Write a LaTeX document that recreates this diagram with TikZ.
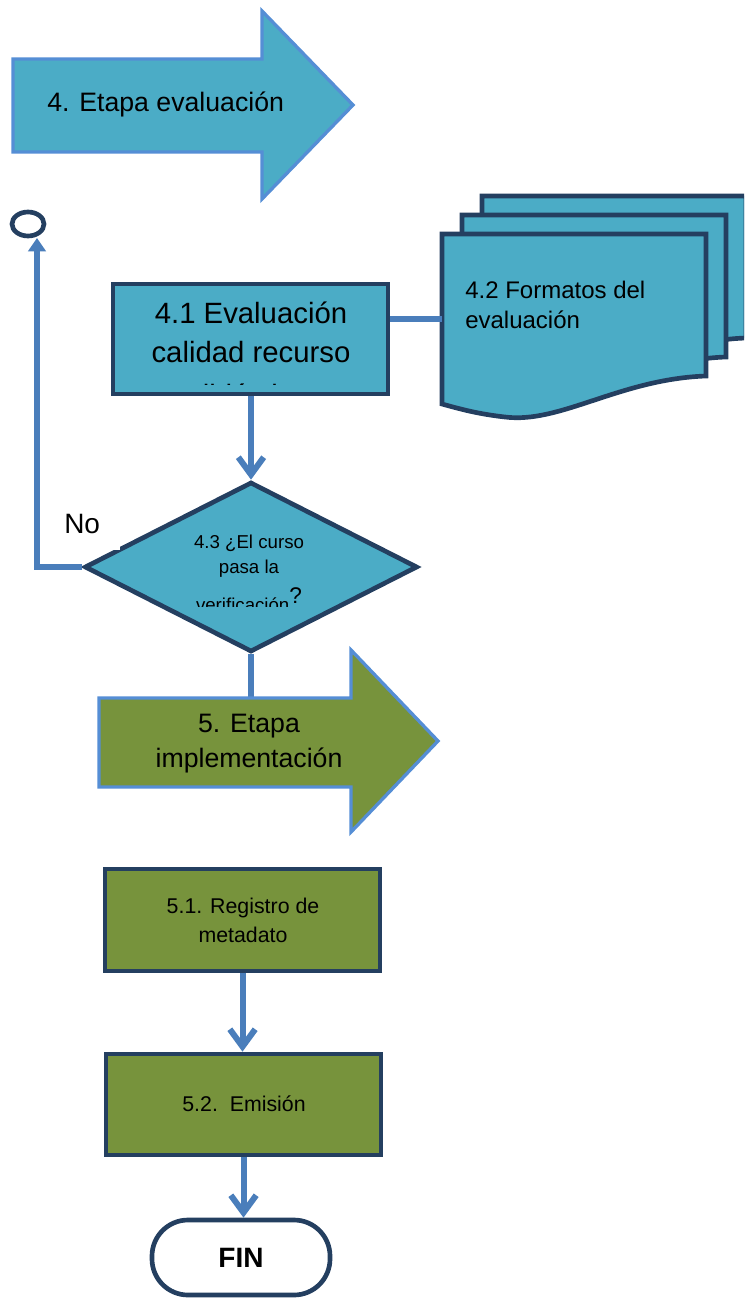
\documentclass[tikz,border=0pt]{standalone}
\usepackage{fontspec}
\setmainfont{Liberation Sans}
\usetikzlibrary{arrows.meta,shapes.geometric}
\definecolor{cAqua}{HTML}{4BACC6}
\definecolor{cGreen}{HTML}{77933C}
\definecolor{cNavy}{HTML}{243F60}
\definecolor{cEdge}{HTML}{558ED5}
\definecolor{cConn}{HTML}{4A7EBB}
\tikzset{
  stagearrow/.style={draw=cEdge, line width=2.5pt, line join=miter},
  navybox/.style={draw=cNavy, line width=3.5pt, inner sep=0pt, line join=miter},
  docsheet/.style={draw=cNavy, line width=3.5pt, fill=cAqua, line join=miter},
  conn/.style={draw=cConn, line width=4.5pt},
  vtip/.style={-{Straight Barb[length=13pt,width=19pt]}},
  ttip/.style={-{Triangle[length=10pt,width=13pt]}},
  lbl/.style={inner sep=0pt, anchor=base},
  f14/.style={font=\fontsize{14}{17}\selectfont},
  f16/.style={font=\fontsize{16}{19}\selectfont},
  f18/.style={font=\fontsize{18}{21}\selectfont},
  f20/.style={font=\fontsize{20}{24}\selectfont},
  f21/.style={font=\fontsize{21}{25}\selectfont},
  f22/.style={font=\fontsize{22}{26}\selectfont},
}
\begin{document}
\begin{tikzpicture}[x=0.75pt, y=-0.75pt]
\useasboundingbox (0,0) rectangle (744,1298);
\clip (0,0) rectangle (744,1298);

% 4. stage arrow
\draw[stagearrow, fill=cAqua] (13,59) -- (262,59) -- (262,11) -- (353,105) -- (262,199) -- (262,152) -- (13,152) -- cycle;
\node[lbl, f20, anchor=base west] (t4) at (47,112) {4. Etapa evaluación};

% 4.2 document stack
\foreach \dx/\dy in {40/-38, 20/-19, 0/0} {
  \draw[docsheet, shift={(\dx,\dy)}] (442,234) -- (706,234) -- (706,376)
    .. controls (620,379) and (560,424) .. (505,417)
    .. controls (478,414) and (460,409) .. (442,404) -- cycle;
}
\coordinate (docL) at (442,319);
\node[lbl, f18, anchor=base west] (t42a) at (465,298) {4.2 Formatos del};
\node[lbl, f18, anchor=base west] (t42b) at (465,328) {evaluación};

% 4.1 box
\node[navybox, fill=cAqua, minimum width=275*0.75pt, minimum height=110*0.75pt] (b41) at (250.5,339) {};
\draw[conn] (b41.east |- docL) -- (docL);
\begin{scope}
  \clip (113,285) rectangle (388,384);
  \node[lbl, f22] (t41a) at (251,323) {4.1 Evaluación};
  \node[lbl, f22] (t41b) at (251,362) {calidad recurso};
  \node[lbl, f22] (t41c) at (251,405) {didáctico};
\end{scope}

% diamond 4.3
\node[navybox, diamond, fill=cAqua, minimum width=333*0.75pt, minimum height=170*0.75pt] (dia) at (251,567) {};
\draw[conn, vtip] (b41.south -| dia.north) -- (dia.north);
\begin{scope}
  \clip (80,480) rectangle (420,606.5);
  \node[lbl, f14] (t43a) at (249,548) {4.3 ¿El curso};
  \node[lbl, f14] (t43b) at (249,573) {pasa la};
  \node[lbl, f14] (t43c) at (249,611) {verificación\raisebox{6pt}{\fontsize{17}{17}\selectfont ?}};
\end{scope}

% No loop
\node[ellipse, draw=cNavy, line width=3.5pt, minimum width=32*0.75pt, minimum height=24*0.75pt, inner sep=0pt] (endc) at (28,224) {};
\coordinate (noTurn) at (37,567);
\coordinate (noEnd) at (37,238);
\draw[conn, ttip] (dia.west) -- (noTurn) -- (noEnd);
\node[f21, fill=white, inner xsep=15pt, inner ysep=12.75pt, anchor=base west] (no) at (44,533) {No};

% 5. stage arrow
\coordinate (g5top) at (251,698);
\draw[conn] (dia.south) -- (g5top);
\draw[stagearrow, fill=cGreen] (99,698) -- (351,698) -- (351,650) -- (438,741) -- (351,832) -- (351,787) -- (99,787) -- cycle;
\node[lbl, f20] (t5a) at (249,732) {5. Etapa};
\node[lbl, f20] (t5b) at (249,767) {implementación};

% 5.1 and 5.2
\node[navybox, fill=cGreen, minimum width=275*0.75pt, minimum height=102*0.75pt] (b51) at (242.5,920) {};
\node[lbl, f16] (t51a) at (243,913) {5.1. Registro de};
\node[lbl, f16] (t51b) at (243,942) {metadato};
\node[navybox, fill=cGreen, minimum width=275*0.75pt, minimum height=101*0.75pt] (b52) at (243.5,1104.5) {};
\node[lbl, f16] (t52) at (244,1111) {5.2.\ \ Emisión};
\draw[conn, vtip] (b51.south) -- (b51.south |- b52.north);

% FIN
\node[navybox, fill=white, rounded corners=27pt, minimum width=178*0.75pt, minimum height=75*0.75pt, font=\bfseries\fontsize{21}{25}\selectfont] (fin) at (241,1257.5) {FIN};
\draw[conn, vtip] (b52.south) -- (b52.south |- fin.north);
\end{tikzpicture}
\end{document}
